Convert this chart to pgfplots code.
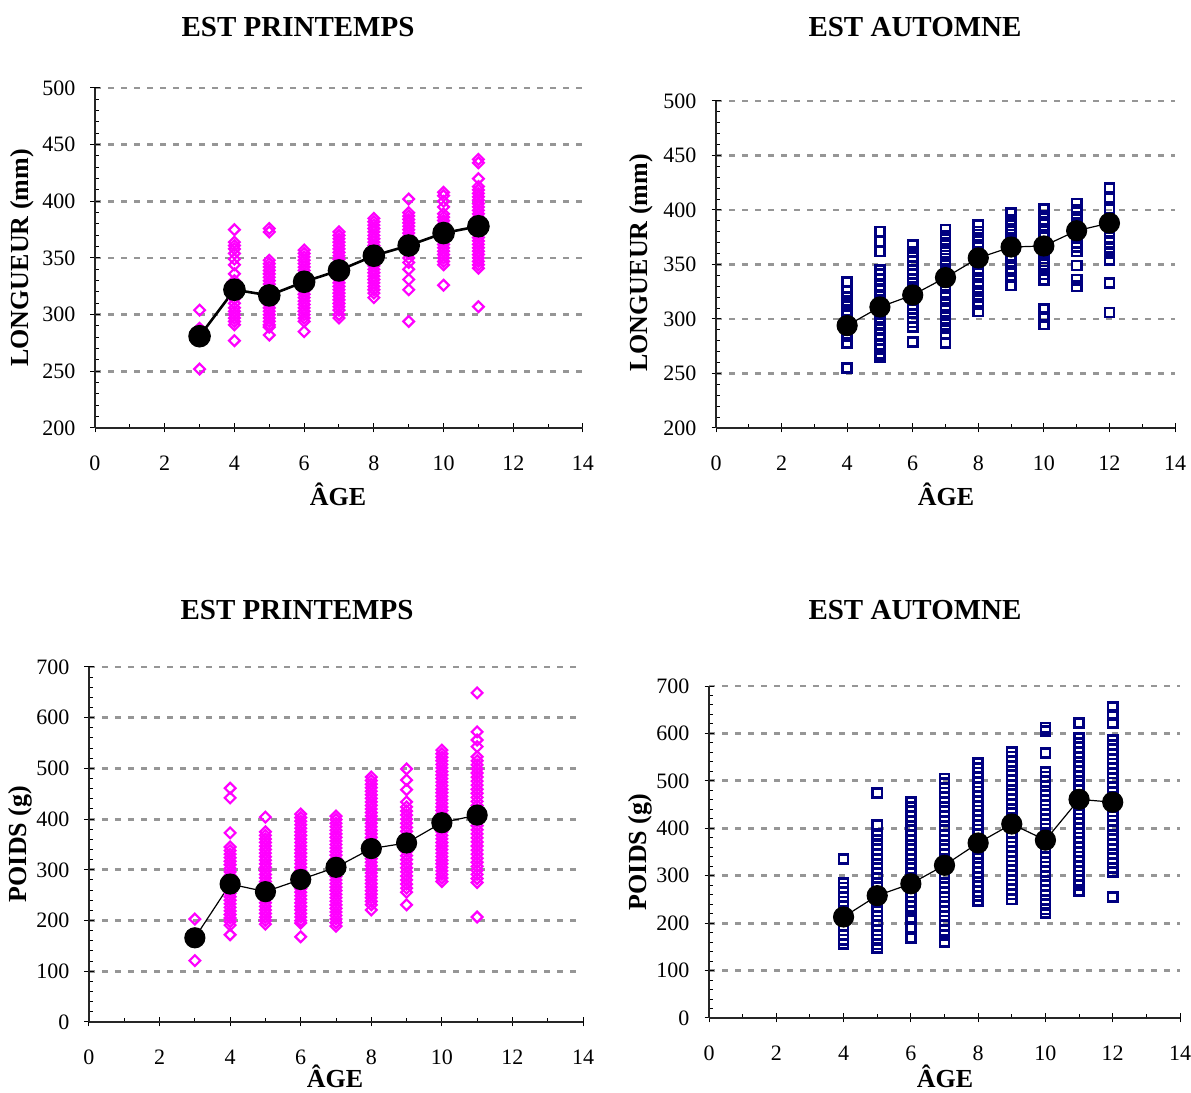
\documentclass[border=0pt]{standalone}
\usepackage{fontspec}
\setmainfont{Liberation Serif}
\usepackage{pgfplots}
\pgfplotsset{compat=1.18}

\definecolor{pinkxl}{RGB}{255,0,255}
\definecolor{navyxl}{RGB}{0,0,128}
\definecolor{gridgray}{RGB}{150,150,150}

\pgfplotsset{
  panel/.style={
    scale only axis,
    axis lines=left,
    axis line style={-, line width=0.6pt, black!85},
    xmin=0, xmax=14, xtick={0,2,...,14}, minor x tick num=1,
    minor y tick num=4,
    tick align=center, major tick length=4.5pt, minor tick length=2.2pt,
    minor x tick style={yshift=1.1pt}, minor y tick style={xshift=1.1pt},
    tick style={black, line width=0.5pt},
    ymajorgrids,
    major grid style={gridgray, line width=1.4pt, dash pattern=on 3pt off 3.5pt},
    ticklabel style={font=\fontsize{11}{12}\selectfont},
    /pgf/number format/assume math mode=true,
    xticklabel style={yshift=-8pt},
    yticklabel style={xshift=-4pt},
    clip=false,
  },
  pinkpts/.style={only marks, mark=square, color=pinkxl, mark size=1.9pt,
    line width=1.1pt, mark options={rotate=45}},
  bluepts/.style={only marks, mark=square, color=navyxl, mark size=2.3pt,
    line width=1.3pt},
  means/.style={black, mark=*, mark size=5pt, mark options={fill=black}},
}
\newcommand{\ttl}{\fontsize{14.5}{16}\selectfont\bfseries}
\newcommand{\lbl}{\fontsize{13}{15}\selectfont\bfseries}

\begin{document}
\begin{tikzpicture}
\useasboundingbox (0,0) rectangle (595.5pt,546.5pt);

% ---- haut gauche : longueur, printemps
\begin{axis}[panel, at={(47.5pt,332.5pt)}, anchor=origin,
  width=244pt, height=170pt, ymin=200, ymax=500, ytick={200,250,...,500}]
\addplot[pinkpts] coordinates {
(3,304)(3,288)(3,252)
(4,375)(4,364)(4,361)(4,358)(4,354)(4,349)(4,344)(4,336)(4,330)(4,326)(4,322)(4,318)(4,314)(4,310)(4,306)(4,303)(4,300)(4,297)(4,294)(4,291)(4,277)
(5,376)(5,373)(5,348)(5,345)(5,342)(5,339)(5,336)(5,333)(5,330)(5,327)(5,324)(5,321)(5,318)(5,315)(5,312)(5,309)(5,306)(5,303)(5,300)(5,297)(5,294)(5,291)(5,289)(5,282)
(6,357)(6,354)(6,351)(6,348)(6,345)(6,342)(6,339)(6,336)(6,333)(6,330)(6,327)(6,324)(6,321)(6,318)(6,315)(6,312)(6,309)(6,306)(6,303)(6,300)(6,297)(6,294)(6,285)
(7,373)(7,370)(7,367)(7,364)(7,361)(7,358)(7,355)(7,352)(7,349)(7,346)(7,343)(7,340)(7,337)(7,334)(7,331)(7,328)(7,325)(7,322)(7,319)(7,316)(7,313)(7,310)(7,307)(7,304)(7,300)(7,297)
(8,385)(8,382)(8,379)(8,376)(8,373)(8,370)(8,367)(8,364)(8,361)(8,358)(8,355)(8,352)(8,349)(8,346)(8,343)(8,340)(8,337)(8,334)(8,331)(8,328)(8,325)(8,322)(8,319)(8,315)
(9,402)(9,390)(9,387)(9,384)(9,381)(9,378)(9,375)(9,372)(9,369)(9,366)(9,363)(9,360)(9,357)(9,354)(9,350)(9,346)(9,340)(9,331)(9,322)(9,294)
(10,408)(10,405)(10,400)(10,395)(10,389)(10,386)(10,383)(10,380)(10,377)(10,374)(10,371)(10,368)(10,365)(10,362)(10,359)(10,356)(10,353)(10,350)(10,347)(10,344)(10,326)
(11,437)(11,434)(11,420)(11,413)(11,410)(11,407)(11,404)(11,401)(11,398)(11,395)(11,392)(11,389)(11,386)(11,383)(11,380)(11,377)(11,374)(11,371)(11,368)(11,365)(11,362)(11,359)(11,356)(11,353)(11,350)(11,347)(11,344)(11,341)(11,307)
};
\addplot[means, line width=1.3pt] coordinates {
(3,281)(4,322)(5,317)(6,329)(7,339)(8,352)(9,361)(10,372)(11,378)
};
\end{axis}

% ---- haut droite : longueur, automne
\begin{axis}[panel, at={(358pt,332.5pt)}, anchor=origin,
  width=229.5pt, height=163.5pt, ymin=200, ymax=500, ytick={200,250,...,500}]
\addplot[bluepts] coordinates {
(4,334)(4,325)(4,320)(4,314)(4,308)(4,303)(4,298)(4,290)(4,284)(4,278)(4,255)
(5,380)(5,371)(5,362)(5,345)(5,341)(5,336)(5,331)(5,326)(5,321)(5,316)(5,311)(5,306)(5,301)(5,296)(5,291)(5,286)(5,281)(5,276)(5,272)(5,268)(5,265)
(6,368)(6,362)(6,357)(6,353)(6,349)(6,345)(6,341)(6,337)(6,333)(6,329)(6,325)(6,321)(6,317)(6,313)(6,309)(6,305)(6,301)(6,297)(6,293)(6,279)
(7,382)(7,376)(7,370)(7,364)(7,358)(7,352)(7,346)(7,340)(7,334)(7,328)(7,322)(7,316)(7,310)(7,304)(7,298)(7,292)(7,286)(7,278)
(8,386)(8,380)(8,374)(8,368)(8,362)(8,356)(8,350)(8,344)(8,338)(8,332)(8,326)(8,320)(8,314)(8,307)
(9,397)(9,391)(9,386)(9,380)(9,374)(9,368)(9,362)(9,356)(9,350)(9,344)(9,338)(9,331)
(10,401)(10,395)(10,389)(10,383)(10,377)(10,371)(10,365)(10,359)(10,353)(10,347)(10,341)(10,336)(10,309)(10,302)(10,295)
(11,406)(11,400)(11,394)(11,388)(11,382)(11,376)(11,370)(11,366)(11,362)(11,349)(11,336)(11,330)
(12,420)(12,411)(12,401)(12,391)(12,385)(12,380)(12,375)(12,370)(12,365)(12,360)(12,354)(12,333)(12,306)
};
\addplot[means, line width=0.6pt] coordinates {
(4,294)(5,311)(6,322)(7,338)(8,356)(9,366)(10,367)(11,381)(12,388)
};
\end{axis}

% ---- bas gauche : poids, printemps
\begin{axis}[panel, at={(44.5pt,35.5pt)}, anchor=origin,
  width=247pt, height=177.5pt, ymin=0, ymax=700, ytick={0,100,...,700}]
\addplot[pinkpts] coordinates {
(3,203)(3,121)
(4,461)(4,442)(4,373)(4,345)(4,338)(4,331)(4,324)(4,317)(4,310)(4,303)(4,296)(4,289)(4,282)(4,275)(4,268)(4,261)(4,254)(4,247)(4,240)(4,233)(4,226)(4,219)(4,212)(4,205)(4,198)(4,191)(4,172)
(5,404)(5,375)(5,368)(5,361)(5,354)(5,347)(5,340)(5,333)(5,326)(5,319)(5,312)(5,305)(5,298)(5,291)(5,284)(5,277)(5,270)(5,263)(5,256)(5,249)(5,242)(5,235)(5,228)(5,221)(5,214)(5,207)(5,200)(5,193)
(6,410)(6,403)(6,396)(6,389)(6,382)(6,375)(6,368)(6,361)(6,354)(6,347)(6,340)(6,333)(6,326)(6,319)(6,312)(6,305)(6,298)(6,291)(6,284)(6,277)(6,270)(6,263)(6,256)(6,249)(6,242)(6,235)(6,228)(6,221)(6,214)(6,207)(6,200)(6,195)(6,168)
(7,406)(7,399)(7,392)(7,385)(7,378)(7,371)(7,364)(7,357)(7,350)(7,343)(7,336)(7,329)(7,322)(7,315)(7,308)(7,301)(7,294)(7,287)(7,280)(7,273)(7,266)(7,259)(7,252)(7,245)(7,238)(7,231)(7,224)(7,217)(7,210)(7,203)(7,196)(7,189)
(8,483)(8,476)(8,469)(8,462)(8,455)(8,448)(8,441)(8,434)(8,427)(8,420)(8,413)(8,406)(8,399)(8,392)(8,385)(8,378)(8,371)(8,364)(8,357)(8,350)(8,343)(8,336)(8,329)(8,322)(8,315)(8,308)(8,301)(8,294)(8,287)(8,280)(8,273)(8,266)(8,259)(8,252)(8,245)(8,238)(8,231)(8,221)
(9,499)(9,477)(9,458)(9,434)(9,424)(9,416)(9,408)(9,400)(9,392)(9,384)(9,376)(9,368)(9,360)(9,352)(9,344)(9,336)(9,328)(9,320)(9,312)(9,304)(9,296)(9,288)(9,280)(9,272)(9,264)(9,256)(9,231)
(10,536)(10,529)(10,522)(10,515)(10,508)(10,501)(10,494)(10,487)(10,480)(10,473)(10,466)(10,459)(10,452)(10,445)(10,438)(10,431)(10,424)(10,417)(10,410)(10,403)(10,396)(10,389)(10,382)(10,375)(10,368)(10,361)(10,354)(10,347)(10,340)(10,333)(10,326)(10,319)(10,312)(10,305)(10,298)(10,291)(10,284)(10,277)
(11,649)(11,572)(11,556)(11,543)(11,523)(11,515)(11,507)(11,499)(11,491)(11,483)(11,475)(11,467)(11,459)(11,451)(11,443)(11,435)(11,427)(11,419)(11,411)(11,403)(11,395)(11,387)(11,379)(11,371)(11,363)(11,355)(11,347)(11,339)(11,331)(11,323)(11,315)(11,307)(11,299)(11,291)(11,283)(11,275)(11,207)
};
\addplot[means, line width=0.6pt] coordinates {
(3,166)(4,272)(5,257)(6,281)(7,305)(8,342)(9,353)(10,393)(11,408)
};
\end{axis}

% ---- bas droite : poids, automne
\begin{axis}[panel, at={(354.5pt,37.5pt)}, anchor=origin,
  width=235.5pt, height=166pt, ymin=0, ymax=700, ytick={0,100,...,700}]
\addplot[bluepts] coordinates {
(4,335)(4,285)(4,275)(4,265)(4,255)(4,245)(4,235)(4,225)(4,215)(4,205)(4,195)(4,185)(4,175)(4,165)(4,156)
(5,474)(5,407)(5,386)(5,375)(5,365)(5,355)(5,345)(5,335)(5,325)(5,315)(5,305)(5,295)(5,285)(5,275)(5,265)(5,255)(5,245)(5,235)(5,225)(5,215)(5,205)(5,195)(5,185)(5,175)(5,165)(5,155)(5,148)
(6,455)(6,445)(6,435)(6,425)(6,415)(6,405)(6,395)(6,385)(6,375)(6,365)(6,355)(6,345)(6,335)(6,325)(6,315)(6,305)(6,295)(6,285)(6,275)(6,265)(6,255)(6,245)(6,235)(6,225)(6,211)(6,190)(6,169)
(7,505)(7,495)(7,485)(7,475)(7,465)(7,455)(7,445)(7,435)(7,425)(7,415)(7,405)(7,395)(7,385)(7,375)(7,365)(7,355)(7,345)(7,335)(7,325)(7,315)(7,305)(7,295)(7,285)(7,275)(7,265)(7,255)(7,245)(7,235)(7,225)(7,215)(7,205)(7,195)(7,185)(7,175)(7,160)
(8,537)(8,527)(8,517)(8,507)(8,497)(8,487)(8,477)(8,467)(8,457)(8,447)(8,437)(8,427)(8,417)(8,407)(8,397)(8,387)(8,377)(8,367)(8,357)(8,347)(8,337)(8,327)(8,317)(8,307)(8,297)(8,287)(8,277)(8,267)(8,257)(8,247)
(9,561)(9,551)(9,541)(9,531)(9,521)(9,511)(9,501)(9,491)(9,481)(9,471)(9,461)(9,451)(9,441)(9,431)(9,421)(9,411)(9,401)(9,391)(9,381)(9,371)(9,361)(9,351)(9,341)(9,331)(9,321)(9,311)(9,301)(9,291)(9,281)(9,271)(9,261)(9,250)
(10,612)(10,605)(10,559)(10,519)(10,509)(10,499)(10,489)(10,479)(10,469)(10,459)(10,449)(10,439)(10,429)(10,419)(10,409)(10,399)(10,389)(10,379)(10,369)(10,359)(10,349)(10,339)(10,329)(10,319)(10,309)(10,299)(10,289)(10,279)(10,269)(10,259)(10,249)(10,239)(10,229)(10,221)
(11,622)(11,590)(11,580)(11,570)(11,560)(11,550)(11,540)(11,530)(11,520)(11,510)(11,500)(11,490)(11,480)(11,470)(11,460)(11,450)(11,440)(11,430)(11,420)(11,410)(11,400)(11,390)(11,380)(11,370)(11,360)(11,350)(11,340)(11,330)(11,320)(11,310)(11,300)(11,290)(11,280)(11,268)
(12,655)(12,639)(12,622)(12,586)(12,576)(12,566)(12,556)(12,546)(12,536)(12,526)(12,516)(12,506)(12,496)(12,486)(12,476)(12,466)(12,456)(12,446)(12,436)(12,426)(12,416)(12,406)(12,396)(12,386)(12,376)(12,366)(12,356)(12,346)(12,336)(12,326)(12,316)(12,308)(12,255)
};
\addplot[means, line width=0.6pt] coordinates {
(4,213)(5,258)(6,283)(7,322)(8,369)(9,409)(10,375)(11,461)(12,455)
};
\end{axis}

% titres et libellés
\node[font=\ttl] at (149pt,533pt) {EST PRINTEMPS};
\node[font=\ttl] at (457.5pt,533pt) {EST AUTOMNE};
\node[font=\ttl] at (148.5pt,241.5pt) {EST PRINTEMPS};
\node[font=\ttl] at (457.5pt,241.5pt) {EST AUTOMNE};
\node[font=\lbl, rotate=90] at (11pt,417.5pt) {LONGUEUR (mm)};
\node[font=\lbl, rotate=90] at (320.5pt,415pt) {LONGUEUR (mm)};
\node[font=\lbl, rotate=90] at (10pt,124.5pt) {POIDS (g)};
\node[font=\lbl, rotate=90] at (320pt,120.5pt) {POIDS (g)};
\node[font=\lbl] at (169pt,299.5pt) {ÂGE};
\node[font=\lbl] at (473pt,299.5pt) {ÂGE};
\node[font=\lbl] at (167.5pt,8.5pt) {ÂGE};
\node[font=\lbl] at (472.5pt,8.5pt) {ÂGE};
\end{tikzpicture}
\end{document}
